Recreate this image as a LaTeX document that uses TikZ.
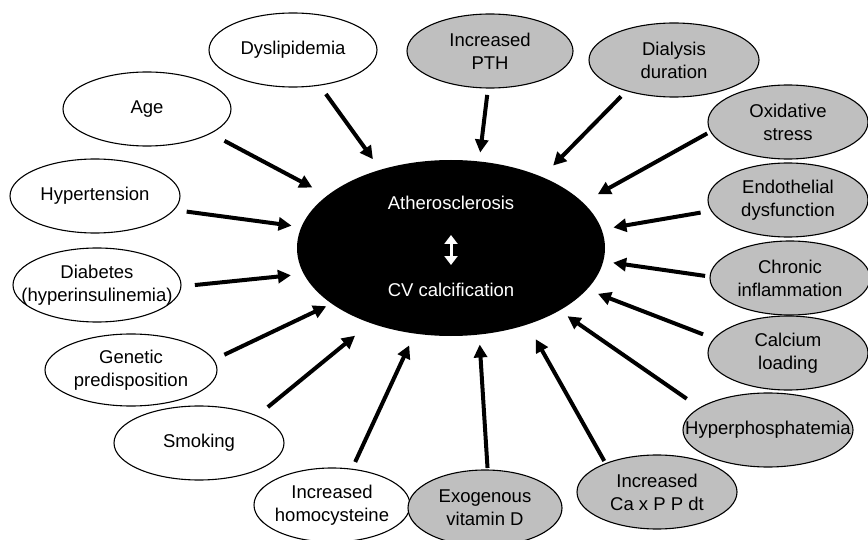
\documentclass[tikz,border=0pt]{standalone}
\usepackage{fontspec}
\setmainfont{Liberation Sans}
\usepackage{xcolor}
\usepackage{tikz}
\usetikzlibrary{shapes, arrows.meta, positioning}

\tikzset{
    factor/.style={draw, ellipse, line width=1.1pt, fill=white, inner ysep=0pt, inner xsep=-90pt,
        outer sep=0pt, align=center, minimum width=168pt, minimum height=74pt,
        font=\fontsize{18.5}{23}\selectfont},
    renal/.style={factor, fill=gray!50},
    arr/.style={line width=4pt, -{Triangle[length=13pt, width=13pt]}},
    core/.style={text=white, inner sep=0pt, font=\fontsize{18.5}{23}\selectfont}
}

\begin{document}
\begin{tikzpicture}[x=1pt, y=-1pt]
    \useasboundingbox (0,0) rectangle (868,540);

    % central outcome
    \node[ellipse, fill=black, inner sep=0pt, outer sep=0pt, minimum width=308pt, minimum height=176pt] (ath) at (451,248) {};
    \node[core] (athtxt) at (451,203) {Atherosclerosis};
    \node[core] (cvtxt) at (451,290) {CV calcification};
    \draw[white, line width=3pt, {Triangle[length=9pt, width=13pt]}-{Triangle[length=9pt, width=13pt]},
        shorten <=25pt, shorten >=18pt] (athtxt.south) -- (cvtxt.north);

    % traditional factors
    \node[factor] (age) at (147,109) {Age};
    \node[factor] (dys) at (293,50) {Dyslipidemia};
    \node[factor, minimum width=170pt] (hyp) at (95,196) {Hypertension};
    \node[factor] (diab) at (97,285) {Diabetes\\(hyperinsulinemia)};
    \node[factor, minimum width=172pt, minimum height=72pt] (gene) at (131,370) {Genetic\\predisposition};
    \node[factor, minimum width=170pt] (smok) at (199,443) {Smoking};
    \node[factor, minimum width=156pt] (homo) at (332,505) {Increased\\homocysteine};

    % uremia related factors
    \node[renal, minimum width=154pt, minimum height=76pt] (exo) at (485,508) {Exogenous\\vitamin D};
    \node[renal, minimum width=160pt] (caxp) at (657,492) {Increased\\Ca x P P dt};
    \node[renal, minimum width=170pt] (hyper) at (768,430) {Hyperphosphatemia};
    \node[renal, minimum width=160pt] (calc) at (788,353) {Calcium\\loading};
    \node[renal, minimum width=160pt] (chron) at (790,278) {Chronic\\inflammation};
    \node[renal, minimum width=160pt] (endo) at (788,200) {Endothelial\\dysfunction};
    \node[renal, minimum width=160pt] (oxid) at (788,122) {Oxidative\\stress};
    \node[renal, minimum width=170pt] (dial) at (674,60) {Dialysis\\duration};
    \node[renal, minimum width=166pt] (pth) at (490,51) {Increased\\PTH};

    % arrows into the centre
    \draw[arr, shorten <=16pt, shorten >=17pt] (age.-21) -- (ath.157);
    \draw[arr, shorten <=11pt, shorten >=13pt] (dys.-53) -- (ath.132);
    \draw[arr, shorten <=13pt, shorten >=10pt] (hyp.-10) -- (ath.172);
    \draw[arr, shorten <=14pt, shorten >=13pt] (diab.-1) -- (ath.-170);
    \draw[arr, shorten <=12pt, shorten >=6pt] (gene.7) -- (ath.-155);
    \draw[arr, shorten <=14pt, shorten >=20pt] (smok.25) -- (ath.-137);
    \draw[arr, shorten <=8pt, shorten >=13pt] (homo.61) -- (ath.-113);
    \draw[arr, shorten <=2pt, shorten >=10pt] (exo.86) -- (ath.-72);
    \draw[arr, shorten <=3pt, shorten >=17pt] (caxp.151) -- (ath.-45);
    \draw[arr, shorten <=16pt, shorten >=10pt] (hyper.162) -- (ath.-30);
    \draw[arr, shorten <=12pt, shorten >=12pt] (calc.169) -- (ath.-17);
    \draw[arr, shorten <=5pt, shorten >=10pt] (chron.179) -- (ath.-5);
    \draw[arr, shorten <=11pt, shorten >=12pt] (endo.-172) -- (ath.7);
    \draw[arr, shorten <=4pt, shorten >=17pt] (oxid.-173) -- (ath.19);
    \draw[arr, shorten <=8pt, shorten >=16pt] (dial.-147) -- (ath.38);
    \draw[arr, shorten <=7pt, shorten >=9pt] (pth.-93) -- (ath.72);
\end{tikzpicture}
\end{document}
